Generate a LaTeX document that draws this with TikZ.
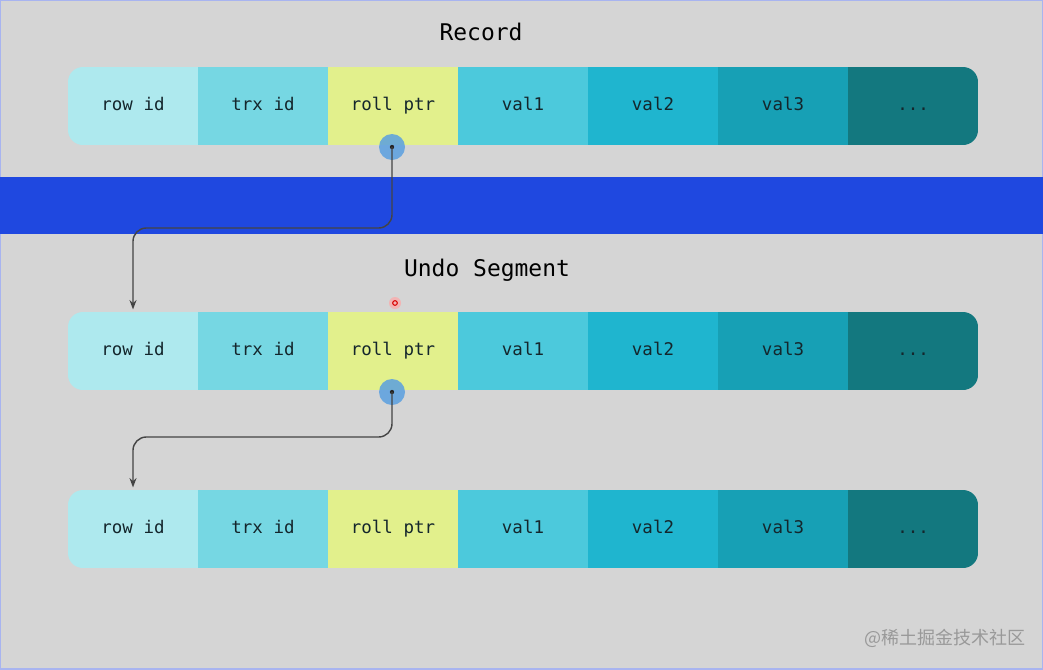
\documentclass[tikz,border=0pt]{standalone}
\usepackage{fontspec}
\setmonofont{DejaVu Sans Mono}
\newfontfamily\cjk{Noto Sans CJK SC}
\usetikzlibrary{positioning, arrows.meta}

\definecolor{bgc}{HTML}{D5D5D5}
\definecolor{bandc}{HTML}{1F48E0}
\definecolor{framec}{HTML}{A8B4F0}
\definecolor{rowidc}{HTML}{AEE9EE}
\definecolor{trxidc}{HTML}{76D7E3}
\definecolor{rollc}{HTML}{E2F08C}
\definecolor{valac}{HTML}{4CC9DC}
\definecolor{valbc}{HTML}{1FB5CF}
\definecolor{valcc}{HTML}{17A0B5}
\definecolor{morec}{HTML}{13787F}
\definecolor{dotc}{HTML}{5A9FE0}
\definecolor{linkc}{HTML}{444444}
\definecolor{labelc}{HTML}{14262C}

\begin{document}
\begin{tikzpicture}[
        x=0.03cm, y=-0.03cm,
        font=\ttfamily,
        cell/.style={minimum width=3.9cm, minimum height=2.34cm, inner sep=0pt, text height=2.3ex, text depth=0.4ex, font=\ttfamily\fontsize{14.9}{16}\selectfont, text=labelc},
        title/.style={font=\ttfamily\fontsize{19.6}{22}\selectfont, text=black},
        ptrdot/.style={circle, fill=dotc, fill opacity=0.85, minimum size=0.78cm, inner sep=0pt},
        ptrcore/.style={circle, fill=black!85, minimum size=0.13cm, inner sep=0pt},
        link/.style={draw=linkc, line width=1.2pt, rounded corners=0.4cm, -{Stealth[length=8pt, width=6pt]}, shorten >=2pt}
    ]

    % --- Background and frame ---
    \useasboundingbox (0,0) rectangle (1043,669);
    \fill[bgc] (0,0) rectangle (1043,669);
    \draw[framec, line width=2.5pt] (0,0) rectangle (1043,669);
    \fill[bandc] (0,177) rectangle (1043,234);

    % --- Titles ---
    \node[title] (t_record) at (481,32) {Record};
    \node[title] (t_undo) at (487,270) {Undo Segment};

    % --- Row 1 (Record) ---
    \begin{scope}
    \clip[rounded corners=0.45cm] (68,67) rectangle (978,145);
    \node[cell, fill=rowidc] (r1_row) at (133,106) {row id};
    \node[cell, fill=trxidc] (r1_trx) at (263,106) {trx id};
    \node[cell, fill=rollc] (r1_roll) at (393,106) {roll ptr};
    \node[cell, fill=valac] (r1_v1) at (523,106) {val1};
    \node[cell, fill=valbc] (r1_v2) at (653,106) {val2};
    \node[cell, fill=valcc] (r1_v3) at (783,106) {val3};
    \node[cell, fill=morec] (r1_more) at (913,106) {...};
    \end{scope}

    % --- Row 2 (Undo Segment) ---
    \begin{scope}
    \clip[rounded corners=0.45cm] (68,312) rectangle (978,390);
    \node[cell, fill=rowidc] (r2_row) at (133,351) {row id};
    \node[cell, fill=trxidc] (r2_trx) at (263,351) {trx id};
    \node[cell, fill=rollc] (r2_roll) at (393,351) {roll ptr};
    \node[cell, fill=valac] (r2_v1) at (523,351) {val1};
    \node[cell, fill=valbc] (r2_v2) at (653,351) {val2};
    \node[cell, fill=valcc] (r2_v3) at (783,351) {val3};
    \node[cell, fill=morec] (r2_more) at (913,351) {...};
    \end{scope}

    % --- Row 3 ---
    \begin{scope}
    \clip[rounded corners=0.45cm] (68,490) rectangle (978,568);
    \node[cell, fill=rowidc] (r3_row) at (133,529) {row id};
    \node[cell, fill=trxidc] (r3_trx) at (263,529) {trx id};
    \node[cell, fill=rollc] (r3_roll) at (393,529) {roll ptr};
    \node[cell, fill=valac] (r3_v1) at (523,529) {val1};
    \node[cell, fill=valbc] (r3_v2) at (653,529) {val2};
    \node[cell, fill=valcc] (r3_v3) at (783,529) {val3};
    \node[cell, fill=morec] (r3_more) at (913,529) {...};
    \end{scope}

    % --- Pointer dots ---
    \node[ptrdot] (r1_dot) at (392,147) {};
    \node[ptrcore] (r1_core) at (r1_dot.center) {};
    \node[ptrdot] (r2_dot) at (392,392) {};
    \node[ptrcore] (r2_core) at (r2_dot.center) {};

    % --- Links ---
    \draw[link] (r1_core.center) -- ++(0,81) -| (r2_row.north);
    \draw[link] (r2_core.center) -- ++(0,45) -| (r3_row.north);

    % Cursor mark
    \node[circle, fill=red!35, fill opacity=0.7, minimum size=0.36cm, inner sep=0pt] (cursor) at (395,303) {};
    \node[circle, draw=red!85!black, line width=0.9pt, minimum size=0.14cm, inner sep=0pt] (cursor_ring) at (cursor.center) {};

    % Watermark
    \node[text=black!40, font=\cjk\fontsize{15.4}{17}\selectfont] (mark) at (945,638) {@稀土掘金技术社区};

\end{tikzpicture}
\end{document}
